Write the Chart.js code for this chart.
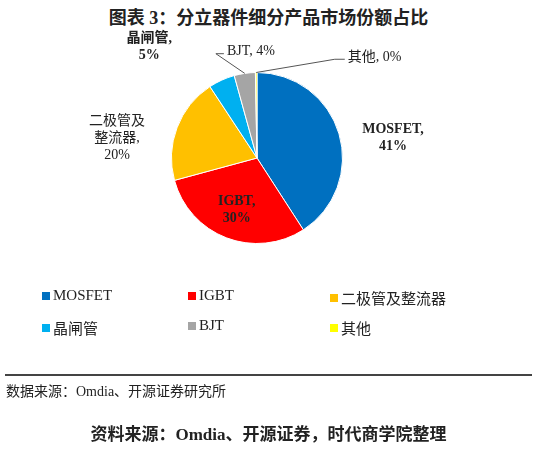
<!DOCTYPE html>
<html><head><meta charset="utf-8">
<script src="https://cdn.jsdelivr.net/npm/chart.js@4"></script>
<style>
body{margin:0;width:537px;height:450px;background:#fff;position:relative;overflow:hidden;font-family:'Liberation Serif','Noto Sans CJK SC',serif;color:#222}
#c{position:absolute;left:0;top:0}
.t{position:absolute;white-space:nowrap}
.leg{position:absolute;font-size:15px;display:flex;align-items:center;font-family:'Liberation Serif','Noto Sans CJK SC',serif}
.leg i{display:inline-block;width:8px;height:8px;margin-right:3px}
</style></head><body>
<div class="t" style="left:0;width:537px;text-align:center;top:3px;font-size:18px;font-weight:bold">图表 3：分立器件细分产品市场份额占比</div>
<canvas id="c" width="537" height="450"></canvas>
<div id="legend"></div>
<div style="position:absolute;left:5px;right:5px;top:374px;border-top:2px solid #444"></div>
<div class="t" style="left:6px;top:380px;font-size:14px">数据来源：Omdia、开源证券研究所</div>
<div class="t" style="left:0;width:537px;text-align:center;top:420px;font-size:17px;font-weight:bold">资料来源：Omdia、开源证券，时代商学院整理</div>
<script>
const labels = ["MOSFET", "IGBT", "二极管及整流器", "晶闸管", "BJT", "其他"];
const shares = [41, 30, 20, 5, 4, 0.3];
const colors = ["#0070C0", "#FF0000", "#FFC000", "#00B0F0", "#A5A5A5", "#FFFF00"];

// legend grid
const legPos = [[42, 287], [188, 287], [330, 287], [42, 317], [188, 317], [330, 317]];
const leg = document.getElementById("legend");
labels.forEach((l, i) => {
  const d = document.createElement("div");
  d.className = "leg";
  d.style.left = legPos[i][0] + "px"; d.style.top = legPos[i][1] + "px";
  d.innerHTML = `<i style="background:${colors[i]}"></i>${l}`;
  leg.appendChild(d);
});

// label offsets from each arc's tooltip point
const labelSpec = [
  { dx: 95, dy: -8, bold: true, lines: ["MOSFET,", "41%"] },
  { dx: -5, dy: 12, bold: true, lines: ["IGBT,", "30%"] },
  { dx: -100, dy: -5, bold: false, lines: ["二极管及", "整流器,", "20%"] },
  { dx: -90, dy: -72, bold: true, lines: ["晶闸管,", "5%"] },
  { dx: 0, dy: -64, bold: false, lines: ["BJT, 4%"], leader: true },
  { dx: 118, dy: -58, bold: false, lines: ["其他, 0%"], leader: true }
];

const pieLabels = {
  id: "pieLabels",
  afterDatasetsDraw(chart) {
    const ctx = chart.ctx;
    const arcs = chart.getDatasetMeta(0).data;
    ctx.save();
    arcs.forEach((arc, i) => {
      const s = labelSpec[i];
      const p = arc.tooltipPosition();
      const x = p.x + s.dx, y = p.y + s.dy;
      ctx.font = (s.bold ? "bold " : "") + "14px 'Liberation Serif','Noto Sans CJK SC'";
      ctx.fillStyle = "#222";
      ctx.textAlign = "center";
      ctx.textBaseline = "middle";
      const lh = 17;
      const y0 = y - (s.lines.length - 1) * lh / 2;
      s.lines.forEach((t, k) => ctx.fillText(t, x, y0 + k * lh));
      if (s.leader) {
        const mid = (arc.startAngle + arc.endAngle) / 2;
        const ex = arc.x + Math.cos(mid) * arc.outerRadius;
        const ey = arc.y + Math.sin(mid) * arc.outerRadius;
        const w = ctx.measureText(s.lines[0]).width;
        const lx = x - w / 2 - 3;
        ctx.strokeStyle = "#555"; ctx.lineWidth = 1;
        ctx.beginPath();
        ctx.moveTo(lx, y + 2);
        ctx.lineTo(lx - (i === 5 ? 10 : 8), y + 2);
        ctx.lineTo(ex, ey);
        ctx.stroke();
      }
    });
    ctx.restore();
  }
};

new Chart(document.getElementById("c"), {
  type: "pie",
  data: { labels, datasets: [{ data: shares, backgroundColor: colors, borderColor: "#fff", borderWidth: 1 }] },
  options: {
    responsive: false,
    animation: false,
    layout: { padding: { top: 72, bottom: 206, left: 171, right: 194 } },
    plugins: { legend: { display: false }, tooltip: { enabled: false } }
  },
  plugins: [pieLabels]
});
</script>
</body></html>
